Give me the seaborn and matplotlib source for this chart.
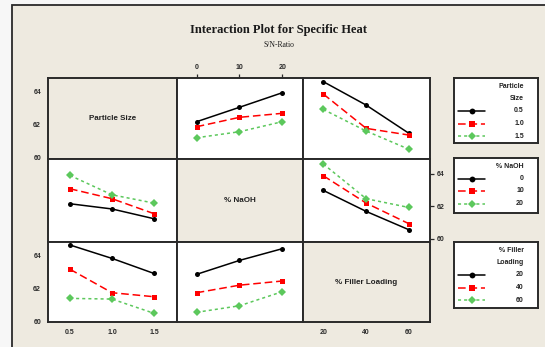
import matplotlib
matplotlib.use("Agg")
import matplotlib.pyplot as plt
from matplotlib.patches import Rectangle
import numpy as np
import pandas as pd
import seaborn as sns

# Factor levels
particle_levels = [0.5, 1.0, 1.5]
naoh_levels = [0, 10, 20]
filler_levels = [20, 40, 60]

particle_labels = ["0.5", "1.0", "1.5"]
naoh_labels = ["0", "10", "20"]
filler_labels = ["20", "40", "60"]

# Mean S/N ratio; each list is one line (level of the row factor) across the column factor
# Lines: particle size, x: % NaOH
ps_naoh_05 = [62.17, 63.03, 63.90]
ps_naoh_10 = [61.87, 62.43, 62.67]
ps_naoh_15 = [61.21, 61.57, 62.17]
# Lines: particle size, x: % filler loading
ps_filler_05 = [64.56, 63.16, 61.47]
ps_filler_10 = [63.82, 61.77, 61.37]
ps_filler_15 = [62.90, 61.61, 60.52]
# Lines: % NaOH, x: particle size
na_particle_0 = [62.15, 61.83, 61.23]
na_particle_10 = [63.07, 62.46, 61.54]
na_particle_20 = [63.89, 62.70, 62.19]
# Lines: % NaOH, x: % filler loading
na_filler_0 = [62.97, 61.68, 60.55]
na_filler_10 = [63.87, 62.19, 60.92]
na_filler_20 = [64.59, 62.46, 61.92]
# Lines: % filler loading, x: particle size
fl_particle_20 = [64.60, 63.80, 62.90]
fl_particle_40 = [63.15, 61.75, 61.51]
fl_particle_60 = [61.41, 61.37, 60.52]
# Lines: % filler loading, x: % NaOH
fl_naoh_20 = [62.85, 63.68, 64.38]
fl_naoh_40 = [61.75, 62.20, 62.45]
fl_naoh_60 = [60.58, 60.97, 61.81]

factor_names = ["Particle Size", "% NaOH", "% Filler Loading"]
legend_titles = ["Particle\nSize", "% NaOH", "% Filler\nLoading"]
y_ticks = [60, 62, 64]

W, H = 545, 347
BEIGE = "#EEEAE0"
EDGE = "#2a2a2a"
COLORS = ["#000000", "#FF0000", "#5CC85C"]
MARKERS = ["o", "s", "D"]
DASHES = ["", (5, 2.5), (2, 2)]

sns.set_style("white")
plt.rcParams["font.family"] = ["Liberation Sans", "DejaVu Sans"]

fig = plt.figure(figsize=(W / 100, H / 100), dpi=100)
fig.patch.set_facecolor("#F7F7F7")
frame = Rectangle((12 / W, -0.1), 1.2, 1.1 - 5 / H,
                  transform=fig.transFigure, facecolor=BEIGE,
                  edgecolor=EDGE, lw=1.3, zorder=-10)
fig.add_artist(frame)


def add_ax(x0, y0, x1, y1):
    return fig.add_axes([x0 / W, 1 - y1 / H, (x1 - x0) / W, (y1 - y0) / H])


col_x = [48, 177, 303, 430]
row_y = [78, 159, 242, 322]
xlims = [(0.238, 1.774), (-4.6, 24.84), (10.5, 69.8)]
ylims = [(59.94, 64.78), (59.8, 64.9), (60.0, 64.78)]
levels = [particle_levels, naoh_levels, filler_levels]
labels = [particle_labels, naoh_labels, filler_labels]

panels = {
    (0, 1): [ps_naoh_05, ps_naoh_10, ps_naoh_15],
    (0, 2): [ps_filler_05, ps_filler_10, ps_filler_15],
    (1, 0): [na_particle_0, na_particle_10, na_particle_20],
    (1, 2): [na_filler_0, na_filler_10, na_filler_20],
    (2, 0): [fl_particle_20, fl_particle_40, fl_particle_60],
    (2, 1): [fl_naoh_20, fl_naoh_40, fl_naoh_60],
}

tick_kw = dict(length=3, width=0.9, labelsize=5, colors=EDGE, pad=2)

for r in range(3):
    for c in range(3):
        ax = add_ax(col_x[c], row_y[r], col_x[c + 1], row_y[r + 1])
        for s in ax.spines.values():
            s.set_color(EDGE)
            s.set_linewidth(1.4)
        if r == c:
            ax.set_facecolor(BEIGE)
            ax.text(0.5, 0.5, factor_names[r], transform=ax.transAxes,
                    ha="center", va="center", fontsize=5.8, fontweight="bold",
                    color="#222222")
        else:
            ax.set_facecolor("white")
            rows = []
            for k, vals in enumerate(panels[(r, c)]):
                for xv, yv in zip(levels[c], vals):
                    rows.append({"x": xv, "y": yv, "line": labels[r][k]})
            df = pd.DataFrame(rows)
            sns.lineplot(data=df, x="x", y="y", hue="line", style="line",
                         hue_order=labels[r], style_order=labels[r],
                         palette=COLORS, dashes=DASHES, markers=MARKERS,
                         markersize=3.6, markeredgewidth=0, lw=1.1,
                         legend=False, ax=ax)
            ax.set_xlabel("")
            ax.set_ylabel("")
        ax.set_xlim(*xlims[c])
        ax.set_ylim(*ylims[r])
        ax.set_xticks([])
        ax.set_yticks([])
        # Axis ticks on the outer edges of the matrix
        if r == 0 and c == 1:
            ax.xaxis.tick_top()
            ax.set_xticks(levels[c])
            ax.set_xticklabels(labels[c])
        if r == 2 and c in (0, 2):
            ax.set_xticks(levels[c])
            ax.set_xticklabels(labels[c])
        if c == 0 and r in (0, 2):
            ax.set_yticks(y_ticks)
            ax.set_yticklabels([str(t) for t in y_ticks])
        if c == 2 and r == 1:
            ax.yaxis.tick_right()
            ax.set_yticks(y_ticks)
            ax.set_yticklabels([str(t) for t in y_ticks])
        ax.tick_params(axis="both", **tick_kw)
        for t in ax.get_xticklabels() + ax.get_yticklabels():
            t.set_fontweight("bold")

# Legend boxes, one per row factor
legend_boxes = [(454, 78, 538, 143), (454, 158, 538, 213), (454, 242, 538, 308)]
for r, (x0, y0, x1, y1) in enumerate(legend_boxes):
    lax = add_ax(x0, y0, x1, y1)
    lax.set_xlim(x0, x1)
    lax.set_ylim(y1, y0)
    lax.set_xticks([])
    lax.set_yticks([])
    lax.set_facecolor("white")
    for s in lax.spines.values():
        s.set_color(EDGE)
        s.set_linewidth(1.4)
    title_lines = legend_titles[r].split("\n")
    ty = y0 + 8
    for tl in title_lines:
        lax.text(x1 - 14, ty, tl, ha="right", va="center", fontsize=5,
                 fontweight="bold", color="#222222")
        ty += 12.5
    ey = ty
    for k in range(3):
        lax.plot([x0 + 4, x0 + 31], [ey, ey], color=COLORS[k], lw=1.1,
                 dashes=DASHES[k] if DASHES[k] else (None, None))
        lax.plot([x0 + 17.5], [ey], marker=MARKERS[k], color=COLORS[k],
                 markersize=4.2, markeredgewidth=0)
        lax.text(x1 - 14, ey, labels[r][k], ha="right", va="center",
                 fontsize=5, fontweight="bold", color="#222222")
        ey += 12.5

fig.text(0.5 + 6 / W, 1 - 30 / H, "Interaction Plot for Specific Heat",
         ha="center", va="center", fontsize=9, fontweight="bold",
         family=["Liberation Serif", "DejaVu Serif"], color="#1a1a1a")
fig.text(0.5 + 6 / W, 1 - 45 / H, "S/N-Ratio", ha="center", va="center",
         fontsize=5.5, family=["Liberation Serif", "DejaVu Serif"],
         color="#1a1a1a")

fig.savefig("out.png", dpi=100, facecolor=fig.get_facecolor())
